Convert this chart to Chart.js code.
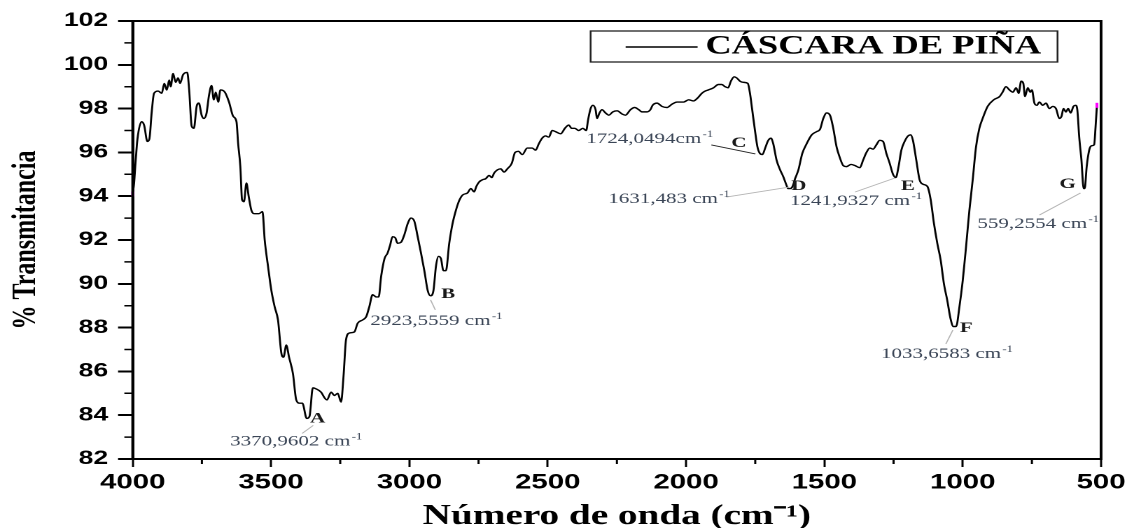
<!DOCTYPE html>
<html>
<head>
<meta charset="utf-8">
<script src="https://cdn.jsdelivr.net/npm/chart.js@4.4.0/dist/chart.umd.min.js"></script>
<style>
  html, body { margin: 0; padding: 0; background: #fff; }
  #wrap { width: 1130px; height: 528px; overflow: hidden; position: relative; background: #fff; }
  /* the figure is laid out on a narrower canvas and widened, giving the broad lettering of the plot */
  #c { position: absolute; left: 0; top: 0; transform: scaleX(1.4); transform-origin: 0 0; }
</style>
</head>
<body>
<div id="wrap"><canvas id="c" width="807" height="528"></canvas></div>
<script>
// FTIR spectrum of pineapple peel: wavenumber (cm-1) and % transmittance
const wavenumbers = [
  4000, 3995, 3990, 3983, 3968, 3959, 3947, 3940, 3931, 3923, 3908, 3895, 3886, 3877, 3868, 3863,
  3854, 3845, 3836, 3829, 3818, 3803, 3796, 3787, 3779, 3769, 3761, 3751, 3743, 3733, 3725, 3715,
  3707, 3700, 3691, 3683, 3667, 3652, 3637, 3625, 3619, 3611, 3605, 3598, 3589, 3581, 3571, 3559,
  3544, 3531, 3523, 3511, 3499, 3487, 3475, 3463, 3455, 3445, 3435, 3421, 3409, 3397, 3387, 3370.9602,
  3361, 3349, 3337, 3319, 3307, 3298, 3283, 3271, 3259, 3247, 3238, 3229, 3217, 3199, 3187, 3169,
  3156, 3145, 3133, 3120, 3111, 3102, 3090, 3079, 3070, 3061, 3051, 3043, 3030, 3018, 3006, 2994,
  2982, 2970, 2958, 2946, 2934, 2923.5559, 2913, 2904, 2895, 2886, 2877, 2868, 2856, 2844, 2832, 2820,
  2808, 2790, 2778, 2766, 2758, 2748, 2736, 2724, 2712, 2702, 2694, 2682, 2670, 2658, 2646, 2630,
  2618, 2606, 2592, 2574, 2556, 2544, 2532, 2520, 2508, 2496, 2484, 2472, 2453, 2438, 2424, 2414,
  2402, 2388, 2373, 2361, 2354, 2345, 2337, 2327, 2322, 2313, 2304, 2291, 2279, 2265, 2249, 2231,
  2219, 2201, 2186, 2171, 2159, 2141, 2129, 2121, 2105, 2087, 2069, 2051, 2033, 2009, 1991, 1973,
  1957, 1943, 1931, 1920, 1901, 1883, 1871, 1859, 1848, 1838, 1826, 1817, 1805, 1793, 1777, 1769,
  1761, 1751, 1742, 1733, 1724.0494, 1714, 1703, 1693, 1685, 1673, 1660, 1649, 1637, 1631.483, 1624, 1615,
  1606, 1594, 1580, 1564, 1546, 1528, 1516, 1504, 1492, 1480, 1468, 1456, 1444, 1432, 1420, 1404,
  1390, 1372, 1360, 1348, 1336, 1324, 1312, 1300, 1288, 1276, 1264, 1252, 1241.9327, 1232, 1222, 1210,
  1198, 1188, 1180, 1168, 1156, 1144, 1128, 1116, 1104, 1092, 1080, 1068, 1056, 1044, 1033.6583, 1024,
  1012, 1000, 988, 976, 964, 952, 940, 928, 910, 888, 867, 856, 844, 831, 819, 807,
  798, 789, 781, 775, 765, 756, 750, 741, 732, 723, 711, 699, 687, 675, 663, 651,
  643, 636, 627, 619, 610, 600, 592, 586, 579, 571, 563, 559.2554, 552, 543, 535, 525,
  520, 515
];
const transmittance = [
  94.1, 94.6, 95.5, 96.6, 97.4, 97.25, 96.5, 96.6, 97.9, 98.7, 98.8, 98.7, 99.15, 98.85, 99.3, 99.0,
  99.6, 99.2, 99.4, 99.15, 99.55, 99.65, 98.85, 97.2, 97.1, 98.1, 98.25, 97.7, 97.55, 97.8, 98.55, 99.05,
  98.4, 98.75, 98.3, 98.85, 98.75, 98.3, 97.65, 97.4, 96.4, 95.35, 93.85, 93.75, 94.6, 94.0, 93.35, 93.2,
  93.2, 93.3, 92.0, 90.8, 89.7, 88.95, 88.35, 86.85, 86.65, 87.2, 86.65, 85.9, 84.7, 84.55, 84.55, 83.85,
  83.95, 85.25, 85.2, 85.05, 84.8, 84.7, 85.05, 84.9, 85.0, 84.6, 85.8, 87.45, 87.75, 87.8, 88.2, 88.35,
  88.5, 88.95, 89.5, 89.4, 89.4, 90.35, 91.15, 91.4, 91.75, 92.15, 92.1, 91.85, 91.9, 92.25, 92.75, 93.0,
  92.85, 92.15, 91.4, 90.6, 89.7, 89.45, 89.7, 90.8, 91.25, 91.15, 90.6, 90.6, 91.85, 92.75, 93.35, 93.8,
  94.05, 94.15, 94.35, 94.2, 94.45, 94.65, 94.75, 94.8, 94.95, 94.85, 95.05, 95.2, 95.25, 95.1, 95.25, 95.5,
  96.0, 96.05, 95.9, 96.2, 96.2, 96.1, 96.4, 96.65, 96.75, 96.7, 97.0, 96.95, 96.85, 97.1, 97.25, 97.1,
  97.1, 97.0, 97.1, 97.0, 97.5, 98.0, 98.15, 97.95, 97.55, 97.8, 97.95, 97.8, 97.7, 97.85, 97.9, 97.75,
  97.7, 97.95, 98.05, 97.95, 97.85, 97.85, 97.95, 98.15, 98.25, 98.1, 98.05, 98.2, 98.3, 98.3, 98.4, 98.35,
  98.5, 98.7, 98.8, 98.85, 98.95, 99.1, 99.1, 99.0, 98.95, 99.25, 99.45, 99.4, 99.25, 99.2, 99.15, 98.7,
  97.95, 97.0, 96.25, 95.95, 95.9, 96.2, 96.55, 96.65, 96.4, 95.65, 95.2, 94.9, 94.5, 94.35, 94.35, 94.45,
  94.8, 95.2, 95.95, 96.4, 96.8, 96.95, 97.05, 97.55, 97.8, 97.7, 97.1, 96.25, 95.75, 95.4, 95.35, 95.45,
  95.4, 95.3, 95.65, 96.0, 96.2, 96.15, 96.35, 96.55, 96.5, 95.95, 95.5, 95.0, 94.85, 95.35, 96.1, 96.5,
  96.75, 96.8, 96.55, 95.65, 94.75, 94.55, 94.45, 93.85, 92.75, 91.85, 91.1, 90.0, 89.25, 88.4, 88.05, 88.05,
  88.95, 90.15, 91.7, 93.35, 94.75, 96.25, 97.1, 97.55, 98.1, 98.4, 98.55, 98.75, 99.0, 98.85, 98.75, 98.95,
  98.7, 99.25, 99.15, 98.55, 98.95, 98.75, 98.85, 98.25, 98.15, 98.3, 98.15, 98.25, 98.0, 98.1, 98.0, 97.55,
  97.65, 98.0, 97.85, 98.0, 97.8, 98.1, 98.15, 97.95, 96.7, 95.65, 94.35, 94.35, 95.35, 96.1, 96.3, 96.35,
  97.15, 98.15
];

// axis ticks
const xTickValues = [4000, 3500, 3000, 2500, 2000, 1500, 1000, 500];
const xMinorTicks = [3750, 3250, 2750, 2250, 1750, 1250, 750];
const yTickValues = [82, 84, 86, 88, 90, 92, 94, 96, 98, 100, 102];
const yMinorTicks = [83, 85, 87, 89, 91, 93, 95, 97, 99, 101];

// assigned absorption bands
const peakLetters = ['A', 'B', 'C', 'D', 'E', 'F', 'G'];
const peakWavenumbers = [3370.9602, 2923.5559, 1724.0494, 1631.483, 1241.9327, 1033.6583, 559.2554];
const peakUnitGap = [' ', ' ', '', ' ', ' ', ' ', ' '];
const peakTransmittance = peakWavenumbers.map(w => transmittance[wavenumbers.indexOf(w)]);

const seriesName = 'CÁSCARA DE PIÑA';

// placement of each band note relative to its point (canvas px):
// letter [dx, dy], value text [dx, dy], leader [x0, y0, x1, y1], leader colour
const noteLayout = [
  { letter: [2.4, 4], text: [-54.7, 27], lead: [4.6, 7, -3.3, 15], leadColor: '#b4b4b4' },
  { letter: [7.6, 2], text: [-43, 29], lead: [0, 4, 3.4, 14], leadColor: '#b4b4b4' },
  { letter: [-22.2, -7.6], text: [-125.8, -11.6], lead: [-36.5, -9.6, -5, -0.6], leadColor: '#222' },
  { letter: [2.3, 1.5], text: [-128.4, 14.5], lead: [-44.1, 8.5, 0.9, -1.5], leadColor: '#b4b4b4' },
  { letter: [3.7, 12.4], text: [-75.6, 27.4], lead: [-29.1, 14.4, -0.6, 0.4], leadColor: '#b4b4b4' },
  { letter: [4.6, 5.5], text: [-51.8, 31.5], lead: [-0.4, 3.5, -5.4, 17.5], leadColor: '#b4b4b4' },
  { letter: [-18, -0.5], text: [-76.6, 39.5], lead: [-3, 4.5, -32.3, 26.5], leadColor: '#b4b4b4' }
];

const SERIF = '"Liberation Serif", "Times New Roman", serif';
const SANS = '"Liberation Sans", Arial, sans-serif';

const figureExtras = {
  id: 'figureExtras',
  afterDatasetsDraw(chart) {
    // magenta markers on the first and last recorded points
    const pts = chart.getDatasetMeta(0).data;
    const ctx = chart.ctx;
    ctx.save();
    ctx.fillStyle = '#ff00ff';
    [pts[0], pts[pts.length - 1]].forEach(p => ctx.fillRect(p.x - 1, p.y - 2.5, 2, 5));
    ctx.restore();
  },
  afterDraw(chart) {
    const { ctx, chartArea: a, scales: { x, y } } = chart;
    ctx.save();

    // closed frame round the plot
    ctx.strokeStyle = '#000';
    ctx.lineWidth = 2;
    ctx.strokeRect(a.left, a.top, a.right - a.left, a.bottom - a.top);

    // minor ticks
    ctx.lineWidth = 1.5;
    ctx.beginPath();
    yMinorTicks.forEach(v => {
      const py = y.getPixelForValue(v);
      ctx.moveTo(a.left, py); ctx.lineTo(a.left - 6, py);
    });
    xMinorTicks.forEach(v => {
      const px = x.getPixelForValue(v);
      ctx.moveTo(px, a.bottom); ctx.lineTo(px, a.bottom + 5);
    });
    ctx.stroke();

    // band notes
    ctx.textAlign = 'left';
    ctx.textBaseline = 'alphabetic';
    peakWavenumbers.forEach((wn, i) => {
      const px = x.getPixelForValue(wn);
      const py = y.getPixelForValue(peakTransmittance[i]);
      const L = noteLayout[i];
      ctx.strokeStyle = L.leadColor;
      ctx.lineWidth = 0.9;
      ctx.beginPath();
      ctx.moveTo(px + L.lead[0], py + L.lead[1]);
      ctx.lineTo(px + L.lead[2], py + L.lead[3]);
      ctx.stroke();

      ctx.fillStyle = '#1a1a1a';
      ctx.font = 'bold 15px ' + SERIF;
      ctx.fillText(peakLetters[i], px + L.letter[0], py + L.letter[1]);

      const txt = String(wn).replace('.', ',') + peakUnitGap[i] + 'cm';
      const tx = px + L.text[0], ty = py + L.text[1];
      ctx.fillStyle = '#3a4556';
      ctx.font = '15px ' + SERIF;
      ctx.fillText(txt, tx, ty);
      const w = ctx.measureText(txt).width;
      ctx.font = '9px ' + SERIF;
      ctx.fillText('-1', tx + w + 1, ty - 6);
    });

    // legend box
    const ds = chart.data.datasets[0];
    const bx0 = a.right - 364.6, bx1 = a.right - 31.1;
    const by0 = a.top + 10, by1 = a.top + 41;
    ctx.fillStyle = '#fff';
    ctx.fillRect(bx0, by0, bx1 - bx0, by1 - by0);
    ctx.strokeStyle = '#222';
    ctx.lineWidth = 1.3;
    ctx.strokeRect(bx0, by0, bx1 - bx0, by1 - by0);
    ctx.strokeStyle = ds.borderColor;
    ctx.lineWidth = 1.5;
    ctx.beginPath();
    ctx.moveTo(bx0 + 25, by0 + 16);
    ctx.lineTo(bx0 + 76.4, by0 + 16);
    ctx.stroke();
    ctx.fillStyle = '#000';
    ctx.font = 'bold 26px ' + SERIF;
    ctx.fillText(ds.label, bx0 + 82, by0 + 22.5);

    ctx.restore();
  }
};

new Chart(document.getElementById('c'), {
  type: 'line',
  data: {
    datasets: [{
      label: seriesName,
      data: wavenumbers.map((w, i) => ({ x: w, y: transmittance[i] })),
      borderColor: '#000',
      borderWidth: 1.4,
      pointRadius: 0,
      cubicInterpolationMode: 'monotone',
      fill: false
    }]
  },
  options: {
    responsive: false,
    animation: false,
    devicePixelRatio: 2,
    layout: { padding: { top: 21, right: 18.8, bottom: 0, left: 0 } },
    plugins: { legend: { display: false }, tooltip: { enabled: false } },
    scales: {
      x: {
        type: 'linear',
        reverse: true,
        min: 500,
        max: 4000,
        afterBuildTicks: s => { s.ticks = xTickValues.map(v => ({ value: v })); },
        afterFit: s => { s.height = 69; },
        grid: { drawOnChartArea: false, drawTicks: true, tickLength: 8, tickWidth: 1.5, tickColor: '#000' },
        border: { display: true, color: '#000', width: 2 },
        ticks: { padding: 3, color: '#000', maxRotation: 0, font: { family: SANS, size: 21, weight: 'bold' }, callback: v => String(v) },
        title: {
          display: true,
          text: 'Número de onda (cm⁻¹)',
          color: '#000',
          font: { family: SERIF, size: 28, weight: 'bold', lineHeight: 0.8 },
          padding: 0
        }
      },
      y: {
        type: 'linear',
        min: 82,
        max: 102,
        afterBuildTicks: s => { s.ticks = yTickValues.map(v => ({ value: v })); },
        afterFit: s => { s.width = 94.8; },
        grid: { drawOnChartArea: false, drawTicks: true, tickLength: 10.5, tickWidth: 2, tickColor: '#000' },
        border: { display: true, color: '#000', width: 2 },
        ticks: { padding: 7, color: '#000', font: { family: SANS, size: 19, weight: 'bold' }, callback: v => String(v) },
        title: {
          display: true,
          text: '% Transmitancia',
          color: '#000',
          font: { family: SERIF, size: 24, weight: 'bold', lineHeight: 1 },
          padding: { top: 7, bottom: 0 }
        }
      }
    }
  },
  plugins: [figureExtras]
});
</script>
</body>
</html>
